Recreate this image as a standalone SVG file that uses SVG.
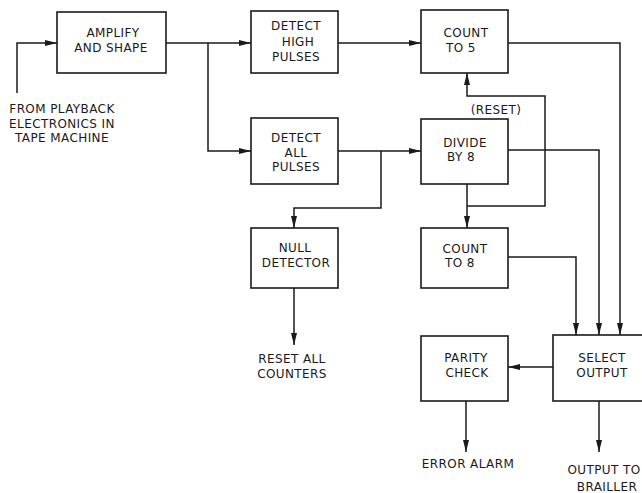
<svg xmlns="http://www.w3.org/2000/svg" width="642" height="493" viewBox="0 0 642 493">
<style>
.box{fill:#fff;stroke:#1a1a1a;stroke-width:1.6}
.ln{fill:none;stroke:#1a1a1a;stroke-width:1.5}
text{font-family:"DejaVu Sans","Liberation Sans",sans-serif;font-size:12px;fill:#1a1a1a;text-anchor:middle;letter-spacing:0.4px}
</style>
<defs>
<marker id="ah" viewBox="0 0 12 6" refX="12" refY="3" markerWidth="12" markerHeight="6" markerUnits="userSpaceOnUse" orient="auto">
<path d="M0,0 L12,3 L0,6 z" fill="#1a1a1a"/>
</marker>
</defs>
<rect width="642" height="493" fill="#fff"/>
<g id="connectors">
<path class="ln" d="M17,93 V43 H57" marker-end="url(#ah)"/>
<path class="ln" d="M166,43 H251" marker-end="url(#ah)"/>
<path class="ln" d="M208,43 V151 H251" marker-end="url(#ah)"/>
<path class="ln" d="M338,43 H421" marker-end="url(#ah)"/>
<path class="ln" d="M338,151 H421" marker-end="url(#ah)"/>
<path class="ln" d="M381,151 V208 H294 V228" marker-end="url(#ah)"/>
<path class="ln" d="M294,288 V345" marker-end="url(#ah)"/>
<path class="ln" d="M508,43 H620 V335" marker-end="url(#ah)"/>
<path class="ln" d="M508,150 H599 V335" marker-end="url(#ah)"/>
<path class="ln" d="M467,184 V228" marker-end="url(#ah)"/>
<path class="ln" d="M467,206 H545 V96 H467 V73" marker-end="url(#ah)"/>
<path class="ln" d="M508,257 H576 V335" marker-end="url(#ah)"/>
<path class="ln" d="M553,367 H508" marker-end="url(#ah)"/>
<path class="ln" d="M466,401 V452" marker-end="url(#ah)"/>
<path class="ln" d="M599,401 V452" marker-end="url(#ah)"/>
</g>
<g id="input-label">
<text x="62" y="113">FROM PLAYBACK</text>
<text x="62" y="128">ELECTRONICS IN</text>
<text x="62" y="142">TAPE MACHINE</text>
</g>
<g id="amplify">
<rect class="box" x="57" y="12" width="109" height="61"/>
<text x="113" y="37">AMPLIFY</text>
<text x="111" y="52">AND SHAPE</text>
</g>
<g id="detect-high">
<rect class="box" x="251" y="11" width="87" height="62"/>
<text x="296" y="30">DETECT</text>
<text x="298" y="46">HIGH</text>
<text x="296" y="61">PULSES</text>
</g>
<g id="detect-all">
<rect class="box" x="251" y="118" width="87" height="66"/>
<text x="296" y="142">DETECT</text>
<text x="296" y="157">ALL</text>
<text x="296" y="171">PULSES</text>
</g>
<g id="count5">
<rect class="box" x="421" y="10" width="87" height="63"/>
<text x="466" y="37">COUNT</text>
<text x="461" y="52">TO 5</text>
</g>
<g id="reset-label">
<text x="496" y="114">(RESET)</text>
</g>
<g id="divide8">
<rect class="box" x="421" y="119" width="87" height="65"/>
<text x="465" y="147">DIVIDE</text>
<text x="461" y="161">BY 8</text>
</g>
<g id="null-detector">
<rect class="box" x="251" y="228" width="87" height="60"/>
<text x="295" y="252">NULL</text>
<text x="296" y="267">DETECTOR</text>
</g>
<g id="reset-all">
<text x="292" y="363">RESET ALL</text>
<text x="292" y="378">COUNTERS</text>
</g>
<g id="count8">
<rect class="box" x="421" y="228" width="87" height="60"/>
<text x="465" y="253">COUNT</text>
<text x="460" y="267">TO 8</text>
</g>
<g id="parity">
<rect class="box" x="421" y="336" width="87" height="65"/>
<text x="466" y="362">PARITY</text>
<text x="467" y="377">CHECK</text>
</g>
<g id="select-output">
<rect class="box" x="553" y="335" width="95" height="66"/>
<text x="602" y="362">SELECT</text>
<text x="602" y="377">OUTPUT</text>
</g>
<g id="error-alarm">
<text x="468" y="468">ERROR ALARM</text>
</g>
<g id="output-brailler">
<text x="604" y="474">OUTPUT TO</text>
<text x="607" y="491">BRAILLER</text>
</g>
</svg>
